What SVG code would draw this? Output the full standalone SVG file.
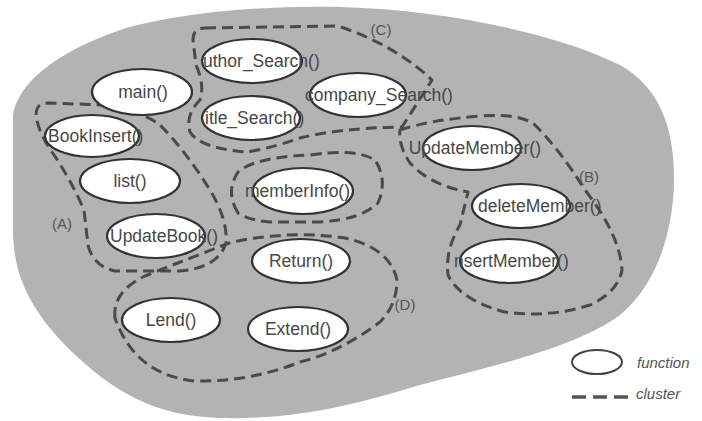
<svg xmlns="http://www.w3.org/2000/svg" width="702" height="421" viewBox="0 0 702 421">
<style>
.fn{fill:#fff;stroke:#333;stroke-width:2.2}
.lbl{font-family:"Liberation Sans",Arial,sans-serif;font-size:17.5px;fill:#474747}
.cl{fill:none;stroke:#4a4a4a;stroke-width:3;stroke-dasharray:11 6;stroke-linejoin:round}
.tag{font-family:"Liberation Sans",Arial,sans-serif;font-size:15px;fill:#555}
.leg{font-family:"Liberation Sans",Arial,sans-serif;font-size:15px;font-style:italic;fill:#555}
</style>
<rect width="702" height="421" fill="#fff"/>
<path id="system" d="M 13,115 C 18,85 50,55 120,30 C 180,12 270,5 340,7 C 450,10 560,35 620,65 C 665,90 678,140 673,200 C 668,250 650,290 620,315 C 580,345 500,365 420,385 C 360,403 300,420 220,418 C 150,416 110,388 70,350 C 35,315 13,280 13,230 Z" fill="#b3b3b3"/>
<g id="connectors">
<g id="cluster-C"><path class="cl" d="M 205,28 L 338,26 Q 395,45 432,80 L 402,127 Q 340,128 300,138 Q 265,150 245,152 Q 200,148 190,132 Q 185,115 200,100 Q 205,85 196,65 L 193,40 Q 193,28 205,28 Z"/><text class="tag" x="381" y="35" text-anchor="middle">(C)</text></g>
<g id="cluster-B"><path class="cl" d="M 400,130 Q 430,120 480,116 Q 520,113 535,125 Q 560,150 585,190 Q 620,235 622,270 Q 618,292 590,305 Q 550,318 505,312 Q 460,300 448,275 Q 445,250 460,225 L 468,192 Q 430,185 410,163 Q 398,145 400,130 Z"/><text class="tag" x="589" y="182" text-anchor="middle">(B)</text></g>
<g id="cluster-A"><path class="cl" d="M 36,115 Q 36,103 48,103 L 105,105 Q 140,110 160,125 Q 185,150 210,190 Q 228,220 226,243 Q 218,268 180,271 L 115,271 Q 93,266 88,245 L 84,210 Q 70,178 52,152 Q 38,132 36,115 Z"/><text class="tag" x="62" y="229" text-anchor="middle">(A)</text></g>
<g id="cluster-info"><path class="cl" d="M 238,213 Q 225,192 238,172 Q 255,157 310,155 Q 355,148 375,160 Q 388,180 378,203 Q 360,220 320,222 L 270,222 Q 248,220 238,213 Z"/></g>
<g id="cluster-D"><path class="cl" d="M 115,318 Q 112,292 145,276 Q 190,258 232,242 Q 290,230 345,238 Q 390,248 397,280 Q 397,305 380,322 Q 340,352 300,362 Q 250,382 195,381 Q 135,375 115,318 Z"/><text class="tag" x="405" y="310" text-anchor="middle">(D)</text></g>
</g>
<g id="main"><ellipse class="fn" cx="142" cy="92" rx="50" ry="23"/><text class="lbl" x="143" y="98" text-anchor="middle">main()</text></g>
<g id="author_Search"><ellipse class="fn" cx="252" cy="61" rx="50" ry="22"/><text class="lbl" x="203" y="67">uthor_Search()</text></g>
<g id="title_Search"><ellipse class="fn" cx="251" cy="118" rx="49" ry="22"/><text class="lbl" x="205" y="124">itle_Search()</text></g>
<g id="company_Search"><ellipse class="fn" cx="358" cy="95" rx="48" ry="22"/><text class="lbl" x="305" y="101">company_Search()</text></g>
<g id="BookInsert"><ellipse class="fn" cx="92" cy="136" rx="47" ry="21"/><text class="lbl" x="48" y="142">BookInsert()</text></g>
<g id="list"><ellipse class="fn" cx="130" cy="181" rx="50" ry="22"/><text class="lbl" x="130" y="187" text-anchor="middle">list()</text></g>
<g id="UpdateBook"><ellipse class="fn" cx="156" cy="236" rx="49" ry="22"/><text class="lbl" x="110" y="242">UpdateBook()</text></g>
<g id="memberInfo"><ellipse class="fn" cx="303" cy="191" rx="50" ry="23"/><text class="lbl" x="245" y="197">memberInfo()</text></g>
<g id="UpdateMember"><ellipse class="fn" cx="472" cy="148" rx="49" ry="22"/><text class="lbl" x="541" y="154" text-anchor="end">UpdateMember()</text></g>
<g id="deleteMember"><ellipse class="fn" cx="521" cy="206" rx="49" ry="22"/><text class="lbl" x="478" y="212">deleteMember()</text></g>
<g id="InsertMember"><ellipse class="fn" cx="509" cy="261" rx="49" ry="22"/><text class="lbl" x="454" y="267">nsertMember()</text></g>
<g id="Return"><ellipse class="fn" cx="301" cy="261" rx="49" ry="22"/><text class="lbl" x="301" y="267" text-anchor="middle">Return()</text></g>
<g id="Lend"><ellipse class="fn" cx="171" cy="320" rx="49" ry="22"/><text class="lbl" x="171" y="326" text-anchor="middle">Lend()</text></g>
<g id="Extend"><ellipse class="fn" cx="298" cy="329" rx="50" ry="22"/><text class="lbl" x="298" y="335" text-anchor="middle">Extend()</text></g>
<g id="legend">
<ellipse cx="597" cy="362" rx="25" ry="12" fill="#fff" stroke="#444" stroke-width="2"/>
<text class="leg" x="637" y="368">function</text>
<line x1="572" y1="397" x2="628" y2="397" stroke="#555" stroke-width="3.5" stroke-dasharray="14 7"/>
<text class="leg" x="636" y="399">cluster</text>
</g>
</svg>
